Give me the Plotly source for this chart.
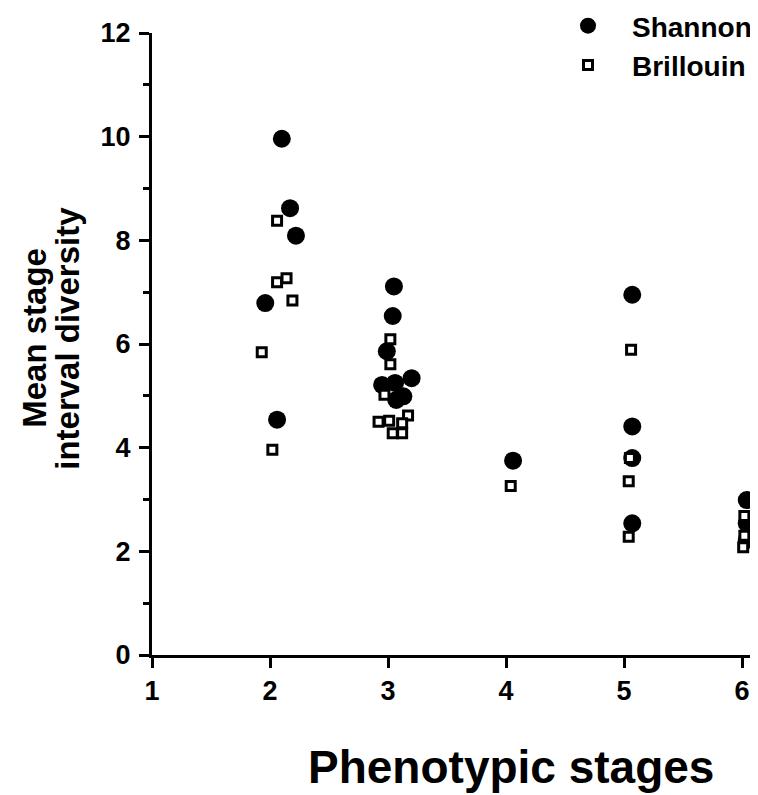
import plotly.graph_objects as go

# Shannon diversity (filled circles): x = phenotypic stage (with jitter as plotted), y = mean stage interval diversity
shannon_x = [2.10, 2.17, 2.22, 1.96, 2.06,
             3.05, 3.04, 2.99, 2.95, 3.06, 3.20, 3.13, 3.07,
             4.06,
             5.07, 5.07, 5.07, 5.07,
             6.04, 6.04, 6.04]
shannon_y = [9.96, 8.62, 8.09, 6.79, 4.54,
             7.11, 6.54, 5.86, 5.21, 5.25, 5.34, 4.99, 4.92,
             3.75,
             6.95, 4.41, 3.80, 2.54,
             2.99, 2.54, 2.22]

# Brillouin diversity (open squares)
brillouin_x = [2.06, 2.06, 2.14, 2.19, 1.93, 2.02,
               3.02, 3.02, 2.97, 2.92, 3.01, 3.17, 3.12, 3.04, 3.12,
               4.04,
               5.06, 5.05, 5.04, 5.04,
               6.02, 6.02, 6.01]
brillouin_y = [8.38, 7.19, 7.27, 6.84, 5.84, 3.96,
               6.09, 5.61, 5.02, 4.50, 4.52, 4.62, 4.47, 4.28, 4.28,
               3.26,
               5.89, 3.80, 3.35, 2.28,
               2.68, 2.30, 2.08]

x_ticks = [1, 2, 3, 4, 5, 6]
y_ticks = [0, 2, 4, 6, 8, 10, 12]

FONT = "Liberation Sans, Arial, Helvetica, sans-serif"
BOLD = dict(family=FONT, color="black", weight="bold")

fig = go.Figure()
fig.add_trace(go.Scatter(
    x=shannon_x, y=shannon_y, mode="markers", name="Shannon",
    marker=dict(symbol="circle", size=18, color="black", line=dict(width=0)),
))
fig.add_trace(go.Scatter(
    x=brillouin_x, y=brillouin_y, mode="markers", name="Brillouin",
    marker=dict(symbol="square", size=9, color="white", line=dict(width=3, color="black")),
))

fig.update_layout(
    width=750, height=787,
    margin=dict(l=144, r=0, t=25, b=140, autoexpand=False),
    paper_bgcolor="white", plot_bgcolor="white",
    font=dict(family=FONT, color="black"),
    showlegend=True,
    legend=dict(
        x=(536 - 144) / 606, y=1 + (25 + 7) / 622, xanchor="left", yanchor="top",
        bgcolor="rgba(0,0,0,0)", borderwidth=0,
        font=dict(size=28, **BOLD),
        itemwidth=78, tracegroupgap=0,
    ),
    xaxis=dict(
        range=[1, 1 + 606 / 118], tickmode="array", tickvals=x_ticks,
        ticktext=[str(v) for v in x_ticks],
        showline=True, linecolor="black", linewidth=3,
        ticks="outside", ticklen=10, tickwidth=3, tickcolor="black",
        showgrid=False, zeroline=False,
        tickfont=dict(size=27, **BOLD),
    ),
    yaxis=dict(
        range=[0, 12], tickmode="array", tickvals=y_ticks,
        ticktext=[str(v) for v in y_ticks],
        showline=True, linecolor="black", linewidth=3,
        ticks="outside", ticklen=10, tickwidth=3, tickcolor="black",
        ticklabelstandoff=3,
        minor=dict(dtick=1, ticks="outside", ticklen=6, tickwidth=2.5, tickcolor="black", showgrid=False),
        showgrid=False, zeroline=False,
        tickfont=dict(size=27, **BOLD),
    ),
    annotations=[
        dict(text="Mean stage", xref="paper", yref="paper",
             x=(27 - 144) / 606, y=0.51, xanchor="center", yanchor="middle",
             textangle=-90, showarrow=False, font=dict(size=33, **BOLD)),
        dict(text="interval diversity", xref="paper", yref="paper",
             x=(60 - 144) / 606, y=0.51, xanchor="center", yanchor="middle",
             textangle=-90, showarrow=False, font=dict(size=33, **BOLD)),
        dict(text="Phenotypic stages", xref="paper", yref="paper",
             x=(503 - 144) / 606, y=(647 - 759) / 622, xanchor="center", yanchor="middle",
             showarrow=False, font=dict(size=46, **BOLD)),
    ],
)

fig.write_html("out.html")
